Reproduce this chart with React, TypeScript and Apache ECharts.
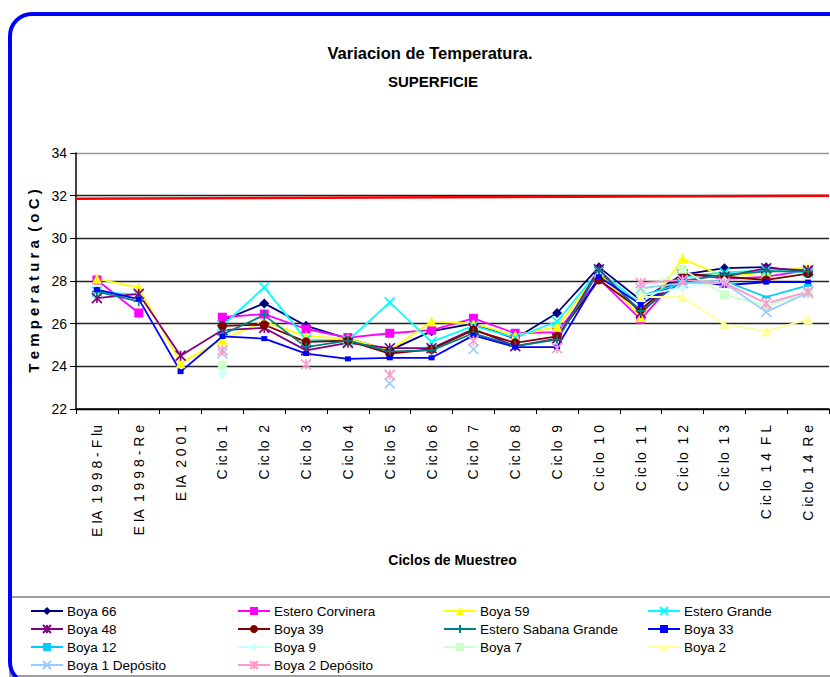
import React, { useEffect, useRef } from "react";
import * as echarts from "echarts";

const categories = [
  "E IA  1 9 9 8 - F lu",
  "E IA  1 9 9 8 - R e",
  "E IA  2 0 0 1",
  "C ic lo  1",
  "C ic lo  2",
  "C ic lo  3",
  "C ic lo  4",
  "C ic lo  5",
  "C ic lo  6",
  "C ic lo  7",
  "C ic lo  8",
  "C ic lo  9",
  "C ic lo  1 0",
  "C ic lo  1 1",
  "C ic lo  1 2",
  "C ic lo  1 3",
  "C ic lo  1 4  F L",
  "C ic lo  1 4  R e",
];

const yTicks = [22, 34, 2]; // min, max, interval

const boya66 = [null, null, null, 26.15, 26.95, 25.9, 25.3, 24.75, 25.65, 26.0, 25.3, 26.5, 28.65, 27.1, 28.3, 28.6, 28.65, 28.4];
const esteroCorvinera = [28.05, 26.5, null, 26.3, 26.45, 25.75, 25.35, 25.55, 25.7, 26.25, 25.55, 25.6, 28.1, 26.2, 28.4, 28.1, 28.2, 28.5];
const boya59 = [28.1, 27.7, 24.15, 25.25, 26.1, 25.4, 25.3, 24.75, 26.1, 26.0, 25.45, 25.85, 28.4, 26.3, 29.05, 28.2, 28.4, 28.65];
const esteroGrande = [27.5, 27.35, null, 25.9, 27.7, 25.25, 25.2, 27.0, 25.15, 25.9, 25.35, 26.1, 28.5, 26.9, 28.2, 28.4, 28.5, 28.4];
const boya48 = [27.2, 27.4, 24.5, 25.7, 25.8, 24.75, 25.1, 24.85, 24.85, 25.75, 24.95, 25.3, 28.55, 26.5, 28.3, 28.2, 28.6, 28.5];
const boya39 = [null, null, null, 25.9, 25.95, 25.15, 25.2, 24.6, 24.8, 25.7, 25.1, 25.4, 28.05, 26.65, 28.35, 28.2, 28.05, 28.35];
const esteroSabanaGrande = [27.5, 27.05, null, 25.5, 26.4, 24.9, 25.2, 24.7, 24.75, 25.55, 24.95, 25.25, 28.45, 26.6, 28.0, 28.3, 28.45, 28.45];
const boya33 = [27.6, 27.15, 23.75, 25.4, 25.3, 24.6, 24.35, 24.4, 24.4, 25.45, 24.9, 24.9, 28.2, 26.9, 28.1, 27.8, 27.95, 27.95];
const boya12 = [null, null, null, null, null, null, null, null, null, null, null, null, null, 27.3, 27.9, 28.0, 27.25, 27.8];
const boya9 = [null, null, null, 23.65, null, null, null, null, null, null, null, null, null, 27.3, 27.7, 28.0, 26.9, 27.5];
const boya7 = [null, null, null, 24.05, null, null, null, null, null, null, null, null, null, 27.5, 28.55, 27.35, 26.85, 27.4];
const boya2 = [null, null, null, null, null, null, null, null, null, null, null, null, null, 27.25, 27.25, 25.95, 25.65, 26.2];
const boya1Deposito = [null, null, null, 24.6, null, null, null, 23.2, null, 24.8, null, null, null, 27.65, 27.9, 27.9, 26.55, 27.45];
const boya2Deposito = [null, null, null, 24.75, null, 24.1, null, 23.6, null, 25.2, null, 24.85, null, 27.9, 28.05, 27.9, 26.95, 27.5];

const limitLine = [[0, 31.85], [1, 32.0]];

const X_PATH = "path://M0,0L10,10M10,0L0,10";
const STAR_PATH = "path://M0,0L10,10M10,0L0,10M5,0L5,10";
const PLUS_PATH = "path://M5,0L5,10M0,5L10,5";

const SANS = '"Liberation Sans", Arial, sans-serif';

type SDef = { name: string; data: (number | null)[]; color: string; symbol: string; size: number | number[]; stroke?: boolean };

const seriesDefs: SDef[] = [
  { name: "Boya 66", data: boya66, color: "#000080", symbol: "diamond", size: 10 },
  { name: "Estero Corvinera", data: esteroCorvinera, color: "#FF00FF", symbol: "rect", size: 9 },
  { name: "Boya 59", data: boya59, color: "#FFFF00", symbol: "triangle", size: 10 },
  { name: "Estero Grande", data: esteroGrande, color: "#00FFFF", symbol: X_PATH, size: 10, stroke: true },
  { name: "Boya 48", data: boya48, color: "#800080", symbol: STAR_PATH, size: 10, stroke: true },
  { name: "Boya 39", data: boya39, color: "#800000", symbol: "circle", size: 9 },
  { name: "Estero Sabana Grande", data: esteroSabanaGrande, color: "#008080", symbol: PLUS_PATH, size: 10, stroke: true },
  { name: "Boya 33", data: boya33, color: "#0000FF", symbol: "rect", size: [6, 5] },
  { name: "Boya 12", data: boya12, color: "#00CCFF", symbol: "rect", size: [8, 3] },
  { name: "Boya 9", data: boya9, color: "#CCFFFF", symbol: "diamond", size: 10 },
  { name: "Boya 7", data: boya7, color: "#CCFFCC", symbol: "rect", size: 9 },
  { name: "Boya 2", data: boya2, color: "#FFFF99", symbol: "triangle", size: 10 },
  { name: "Boya 1 Depósito", data: boya1Deposito, color: "#99CCFF", symbol: X_PATH, size: 10, stroke: true },
  { name: "Boya 2 Depósito", data: boya2Deposito, color: "#FF99CC", symbol: STAR_PATH, size: 10, stroke: true },
];

const legendCols = [
  { left: 30, names: ["Boya 66", "Boya 48", "Boya 12", "Boya 1 Depósito"] },
  { left: 237, names: ["Estero Corvinera", "Boya 39", "Boya 9", "Boya 2 Depósito"] },
  { left: 443, names: ["Boya 59", "Estero Sabana Grande", "Boya 7"] },
  { left: 647, names: ["Estero Grande", "Boya 33", "Boya 2"] },
];

export default function App() {
  const ref = useRef<HTMLDivElement>(null);
  useEffect(() => {
    if (!ref.current) return;
    const chart = echarts.init(ref.current, null, { renderer: "svg" });
    const lineSeries = seriesDefs.map((s) => ({
      name: s.name,
      type: "line",
      data: s.data,
      connectNulls: false,
      showAllSymbol: true,
      symbol: s.symbol,
      symbolSize: s.size,
      lineStyle: { color: s.color, width: 1.8 },
      itemStyle: s.stroke
        ? { color: s.color, borderColor: s.color, borderWidth: 1.6 }
        : { color: s.color, borderWidth: 0 },
      emphasis: { disabled: true },
    }));
    const option: any = {
      animation: false,
      backgroundColor: "#ffffff",
      title: [
        {
          text: "Variacion de Temperatura.",
          left: 425,
          top: 39,
          textAlign: "center",
          textStyle: { fontFamily: SANS, fontWeight: "bold", fontSize: 16.5, color: "#000" },
        },
        {
          text: "SUPERFICIE",
          left: 428,
          top: 69,
          textAlign: "center",
          textStyle: { fontFamily: SANS, fontWeight: "bold", fontSize: 15, color: "#000" },
        },
      ],
      graphic: [
        {
          type: "rect",
          shape: { x: 10, y: 597, width: 900, height: 79 },
          style: { fill: "none", stroke: "#808080", lineWidth: 1.5 },
          z: 0,
        },
        {
          type: "rect",
          shape: { x: 10, y: 14, width: 900, height: 670, r: 22 },
          style: { fill: "none", stroke: "#0000FF", lineWidth: 4 },
          z: 10,
        },
      ],
      legend: legendCols.map((c) => ({
        left: c.left,
        top: 604,
        orient: "vertical",
        padding: 0,
        itemGap: 4,
        itemWidth: 32,
        itemHeight: 10,
        selectedMode: false,
        data: c.names,
        textStyle: { fontFamily: SANS, fontSize: 13.5, color: "#000", padding: [0, 0, 0, -1] },
      })),
      grid: { left: 76, top: 153, width: 753, height: 256, containLabel: false },
      xAxis: [
        {
          type: "category",
          data: categories,
          boundaryGap: true,
          name: "Ciclos de Muestreo",
          nameLocation: "middle",
          nameGap: 144,
          nameTextStyle: { fontFamily: SANS, fontWeight: "bold", fontSize: 14, color: "#000" },
          axisLine: { lineStyle: { color: "#000", width: 1.5 } },
          axisTick: { show: true, length: 5, lineStyle: { color: "#000" } },
          axisLabel: {
            rotate: 90,
            margin: 16,
            interval: 0,
            fontFamily: SANS,
            fontSize: 14,
            color: "#000",
          },
          splitLine: { show: false },
        },
        {
          type: "value",
          min: 0,
          max: 1,
          show: false,
        },
      ],
      yAxis: {
        type: "value",
        min: yTicks[0],
        max: yTicks[1],
        interval: yTicks[2],
        name: "T e m p e r a t u r a  ( o C )",
        nameLocation: "middle",
        nameGap: 32,
        nameTextStyle: { fontFamily: SANS, fontWeight: "bold", fontSize: 15, color: "#000" },
        axisLine: { show: true, lineStyle: { color: "#000", width: 1.5 } },
        axisTick: { show: true, length: 6, lineStyle: { color: "#000" } },
        axisLabel: { fontFamily: SANS, fontSize: 14, color: "#000", margin: 9 },
        splitLine: {
          show: true,
          lineStyle: { color: ["#000", "#222", "#222", "#222", "#222", "#222", "#999"], width: 1.3 },
        },
      },
      series: [
        {
          name: "limit",
          type: "line",
          xAxisIndex: 1,
          data: limitLine,
          symbol: "none",
          lineStyle: { color: "#FF0000", width: 2.5 },
          silent: true,
          z: 1,
        },
        ...lineSeries,
      ],
    };
    chart.setOption(option);
    return () => chart.dispose();
  }, []);
  return (
    <div
      ref={ref}
      style={{ position: "fixed", left: 0, top: 0, width: 830, height: 677, background: "#fff" }}
    />
  );
}
